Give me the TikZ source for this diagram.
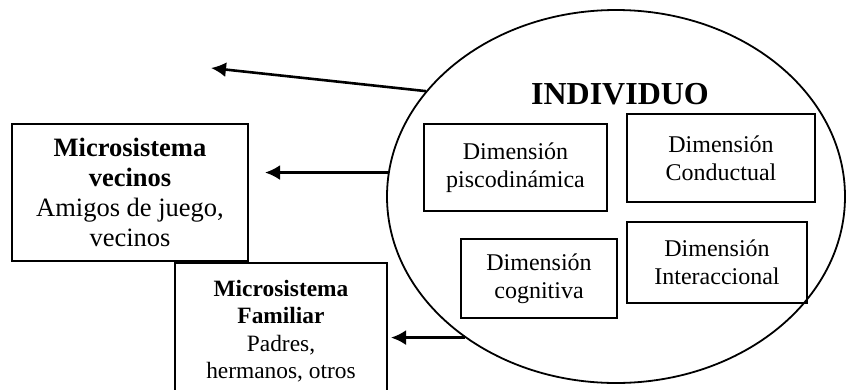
\documentclass[tikz,border=0pt]{standalone}
\usepackage{fontspec}
\setmainfont{Liberation Serif}
\usetikzlibrary{positioning,shapes.geometric,arrows.meta}

\begin{document}
\begin{tikzpicture}[x=1pt,y=-1pt,
    caja/.style={draw,line width=2pt,inner sep=0pt,align=center},
    dim/.style={caja,font=\fontsize{24}{28}\selectfont},
    flecha/.style={-{Latex[length=15pt,width=15pt]},line width=2.6pt}]
    \useasboundingbox (0,0) rectangle (846,389);
    % individuo
    \node[draw,ellipse,line width=1.8pt,inner sep=0pt,
        minimum width=458pt,minimum height=373pt] (indiv) at (616,196.5) {};
    \node[font=\fontsize{32}{36}\selectfont\bfseries,anchor=base] (titulo) at (620,104) {INDIVIDUO};
    \node[dim,minimum width=183pt,minimum height=87pt] (psico) at (515.5,167.5) {Dimensión\\piscodinámica};
    \node[dim,minimum width=188pt,minimum height=88pt] (conducta) at (721,158) {Dimensión\\Conductual};
    \node[dim,minimum width=156pt,minimum height=79pt] (cogni) at (539,278.5) {Dimensión\\cognitiva};
    \node[dim,minimum width=180pt,minimum height=81pt] (interac) at (717,262.5) {Dimensión\\Interaccional};
    % microsistemas
    \node[caja,minimum width=236pt,minimum height=137pt,font=\fontsize{26.5}{30}\selectfont]
        (vecinos) at (130,192.5) {\textbf{Microsistema}\\\textbf{vecinos}\\Amigos de juego,\\vecinos};
    \node[caja,minimum width=212pt,minimum height=136pt,anchor=north,font=\fontsize{23.4}{27.5}\selectfont]
        (familiar) at (281,262) {\textbf{Microsistema}\\\textbf{Familiar}\\Padres,\\hermanos, otros};
    % flechas
    \coordinate (t1) at (211,68);
    \coordinate (t2) at (265,172);
    \coordinate (t3) at (391,337);
    \draw[flecha] (indiv.151) -- (t1);
    \draw[flecha] (indiv.174) -- (indiv.174 -| t2);
    \draw[flecha] (indiv.223) -- (indiv.223 -| t3);
\end{tikzpicture}
\end{document}
